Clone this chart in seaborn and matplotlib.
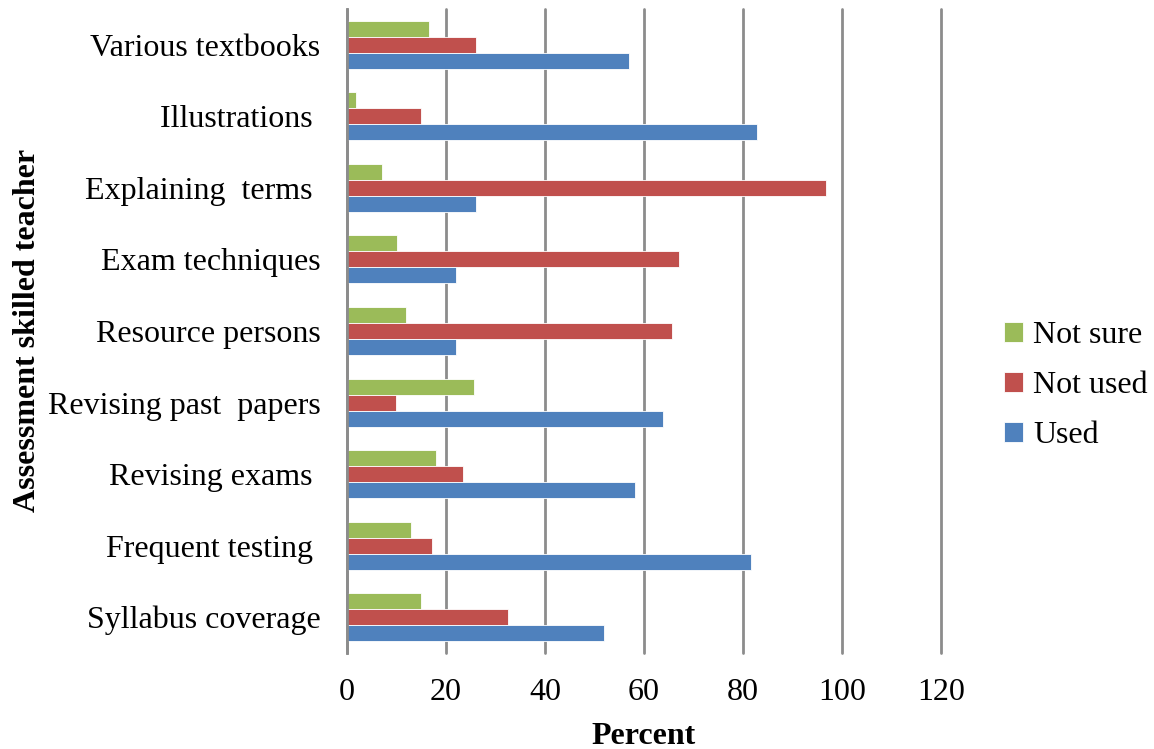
import numpy as np
import pandas as pd
import matplotlib
matplotlib.use("Agg")
import matplotlib.pyplot as plt
import seaborn as sns

# ---------------------------------------------------------------------------
# Data
# ---------------------------------------------------------------------------
items = [
    "Various textbooks",
    "Illustrations ",
    "Explaining  terms ",
    "Exam techniques",
    "Resource persons",
    "Revising past  papers",
    "Revising exams ",
    "Frequent testing ",
    "Syllabus coverage",
]
not_sure = [16.6, 1.9, 7.0, 10.0, 12.0, 25.6, 18.0, 13.0, 15.0]
not_used = [26.1, 15.0, 96.8, 67.1, 65.6, 9.9, 23.5, 17.1, 32.6]
used     = [56.9, 82.8, 26.0, 22.0, 22.0, 63.8, 58.1, 81.6, 52.0]

responses = ["Not sure", "Not used", "Used"]
colors = {"Not sure": "#9BBB59", "Not used": "#C0504D", "Used": "#4F81BD"}

df = pd.DataFrame({
    "Item": items * 3,
    "Response": ["Not sure"] * len(items) + ["Not used"] * len(items) + ["Used"] * len(items),
    "Percent": not_sure + not_used + used,
})

# ---------------------------------------------------------------------------
# Style
# ---------------------------------------------------------------------------
sns.set_style("white")
plt.rcParams["font.family"] = ["Liberation Serif", "DejaVu Serif"]
plt.rcParams["text.color"] = "black"
plt.rcParams["xtick.color"] = "black"
plt.rcParams["ytick.color"] = "black"
plt.rcParams["axes.labelcolor"] = "black"

GRID = "#8C8C8C"
FS = 23

fig = plt.figure(figsize=(11.54, 7.49), dpi=100)
ax = fig.add_axes([0.3007, 0.1282, 0.5147, 0.8598])

sns.barplot(
    data=df, x="Percent", y="Item", hue="Response",
    order=items, hue_order=responses, palette=colors,
    orient="h", width=0.67, saturation=1,
    edgecolor="white", linewidth=0.6, ax=ax,
)

ax.set_xlim(0, 120)
ax.set_xticks(np.arange(0, 121, 20))
ax.xaxis.grid(True, color=GRID, linewidth=2)
for gl in ax.get_xgridlines():
    gl.set_clip_on(False)
ax.set_axisbelow(True)

for side in ["top", "right", "bottom"]:
    ax.spines[side].set_visible(False)
ax.spines["left"].set_color(GRID)
ax.spines["left"].set_linewidth(2)

ax.tick_params(axis="x", length=0, pad=18, labelsize=FS)
ax.tick_params(axis="y", length=0, pad=19, labelsize=FS)

ax.set_xlabel("Percent", fontsize=FS, fontweight="bold", labelpad=11)
ax.set_ylabel("")
fig.text(28 / 1154, 1 - 330 / 749, "Assessment skilled teacher",
         rotation=90, ha="center", va="center", fontsize=FS, fontweight="bold")

ax.legend(
    loc="center left", bbox_to_anchor=(1.058, 0.415), frameon=False,
    fontsize=FS, handlelength=0.6, handleheight=0.6, handletextpad=0.3,
    labelspacing=0.66,
)

fig.savefig("out.png", dpi=100)
plt.close(fig)
